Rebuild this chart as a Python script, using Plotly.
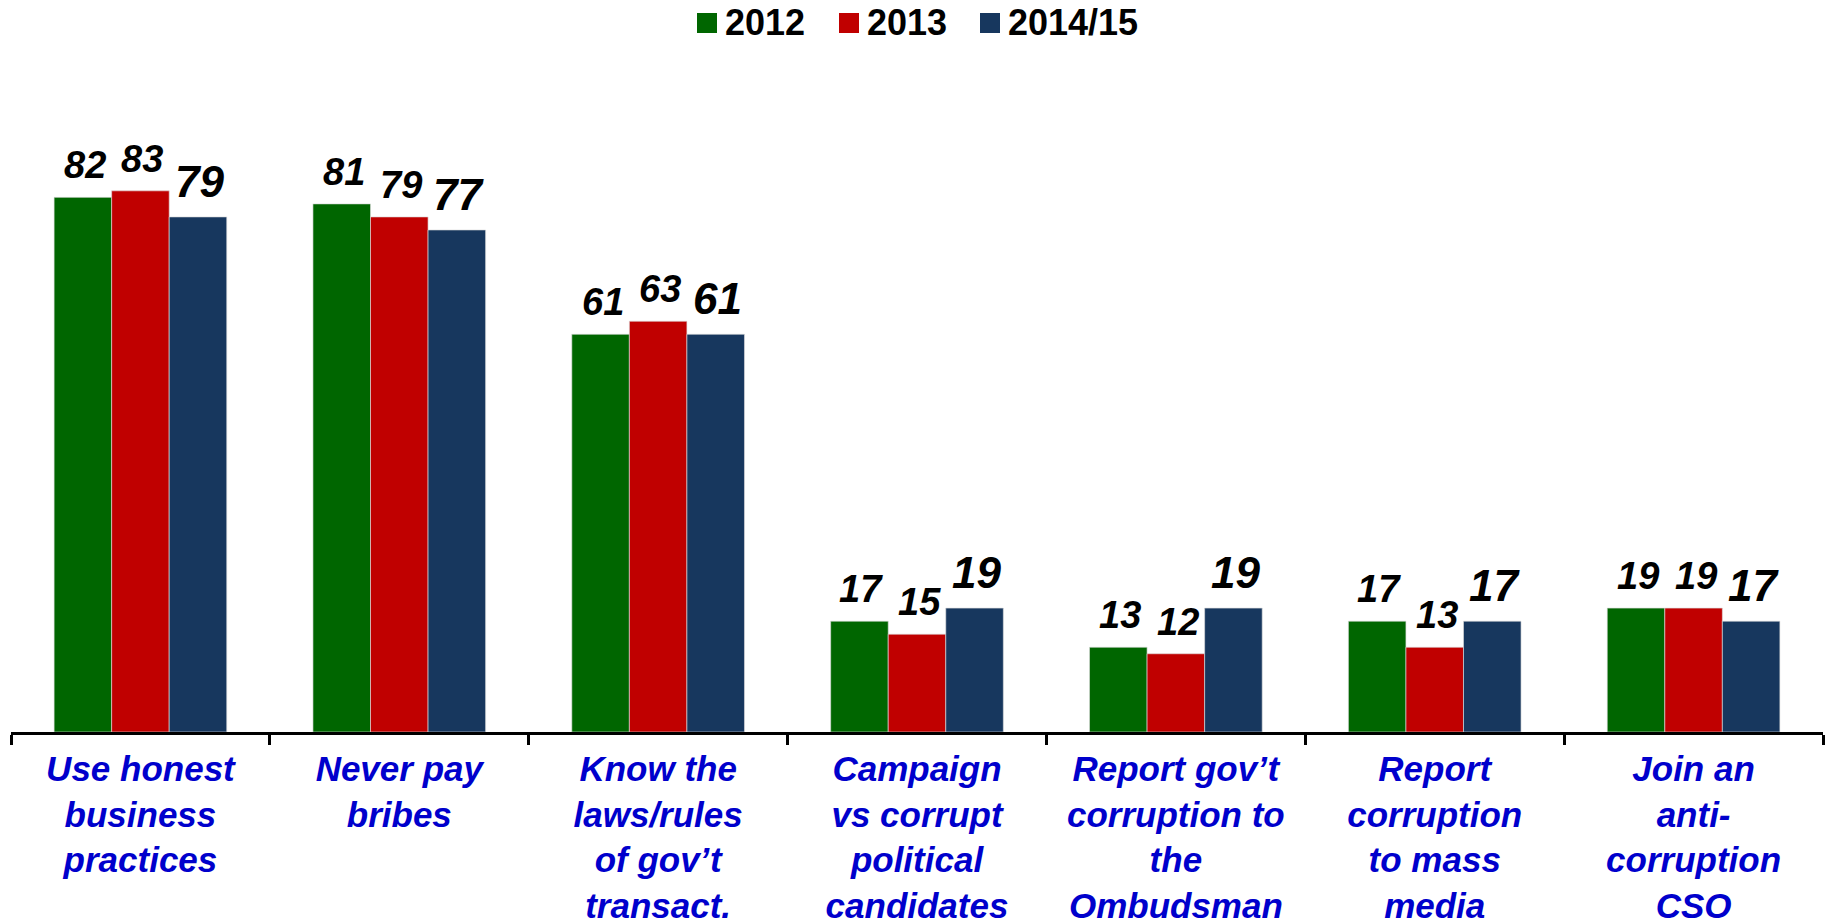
import plotly.graph_objects as go

categories = [
    "Use honest<br>business<br>practices",
    "Never pay<br>bribes",
    "Know the<br>laws/rules<br>of gov’t<br>transact.",
    "Campaign<br>vs corrupt<br>political<br>candidates",
    "Report gov’t<br>corruption to<br>the<br>Ombudsman",
    "Report<br>corruption<br>to mass<br>media",
    "Join an<br>anti-<br>corruption<br>CSO",
]
series_names = ["2012", "2013", "2014/15"]
values_2012 = [82, 81, 61, 17, 13, 17, 19]
values_2013 = [83, 79, 63, 15, 12, 13, 19]
values_2014 = [79, 77, 61, 19, 19, 17, 17]
series_values = [values_2012, values_2013, values_2014]
colors = ["#006600", "#C00000", "#17375E"]
label_sizes = [38, 38, 44]

FONT = "Arial, Liberation Sans, sans-serif"
BARGAP = 0.333
W, H = 1829, 923
ML, MR, MT, MB = 11, 6, 80, 191

def px_x(px):
    return (px - ML) / (W - ML - MR)

def px_y(py):
    return (H - MB - py) / (H - MT - MB)

fig = go.Figure()
for name, vals, col in zip(series_names, series_values, colors):
    fig.add_trace(go.Bar(
        name=name, x=categories, y=vals,
        marker=dict(color=col, line=dict(color="rgba(220,220,220,0.8)", width=0.8)),
        hoverinfo="skip", showlegend=False,
    ))

w = (1 - BARGAP) / 3
annotations = []
for j, (vals, size) in enumerate(zip(series_values, label_sizes)):
    for i, v in enumerate(vals):
        annotations.append(dict(
            x=i + (j - 1) * w, y=v, xref="x", yref="y",
            text=f"<b><i>{v}</i></b>", showarrow=False,
            yanchor="bottom", xanchor="center", yshift=9, xshift=2,
            font=dict(family=FONT, size=size, color="black"),
        ))

# manual legend (large square swatches as in the reference)
legend_swatch_left = [697, 839, 980]
shapes = []
for name, col, sx in zip(series_names, colors, legend_swatch_left):
    shapes.append(dict(
        type="rect", xref="paper", yref="paper",
        x0=px_x(sx), x1=px_x(sx + 20), y0=px_y(33), y1=px_y(13),
        fillcolor=col, line=dict(width=0),
    ))
    annotations.append(dict(
        x=px_x(sx + 26), y=px_y(23), xref="paper", yref="paper",
        text=f"<b>{name}</b>", showarrow=False,
        xanchor="left", yanchor="middle",
        font=dict(family=FONT, size=36, color="black"),
    ))

fig.update_layout(
    width=W, height=H,
    paper_bgcolor="white", plot_bgcolor="white",
    barmode="group", bargap=BARGAP, bargroupgap=0,
    margin=dict(l=ML, r=MR, t=MT, b=MB, autoexpand=False),
    annotations=annotations, shapes=shapes,
    showlegend=False,
    xaxis=dict(
        type="category", range=[-0.5, 6.5],
        showline=True, linecolor="black", linewidth=3,
        ticks="outside", tickson="boundaries", ticklen=10, tickwidth=3, tickcolor="black",
        ticklabelstandoff=4,
        tickfont=dict(family=FONT, size=35, color="#0000CC", weight="bold", style="italic"),
        showgrid=False, zeroline=False, fixedrange=True,
    ),
    yaxis=dict(range=[0, 100], visible=False, showgrid=False, zeroline=False, fixedrange=True),
)

fig.write_html(
    "out.html",
    config={"displayModeBar": False, "staticPlot": True},
    post_script="document.body.style.margin='0';document.body.style.overflow='hidden';",
)
